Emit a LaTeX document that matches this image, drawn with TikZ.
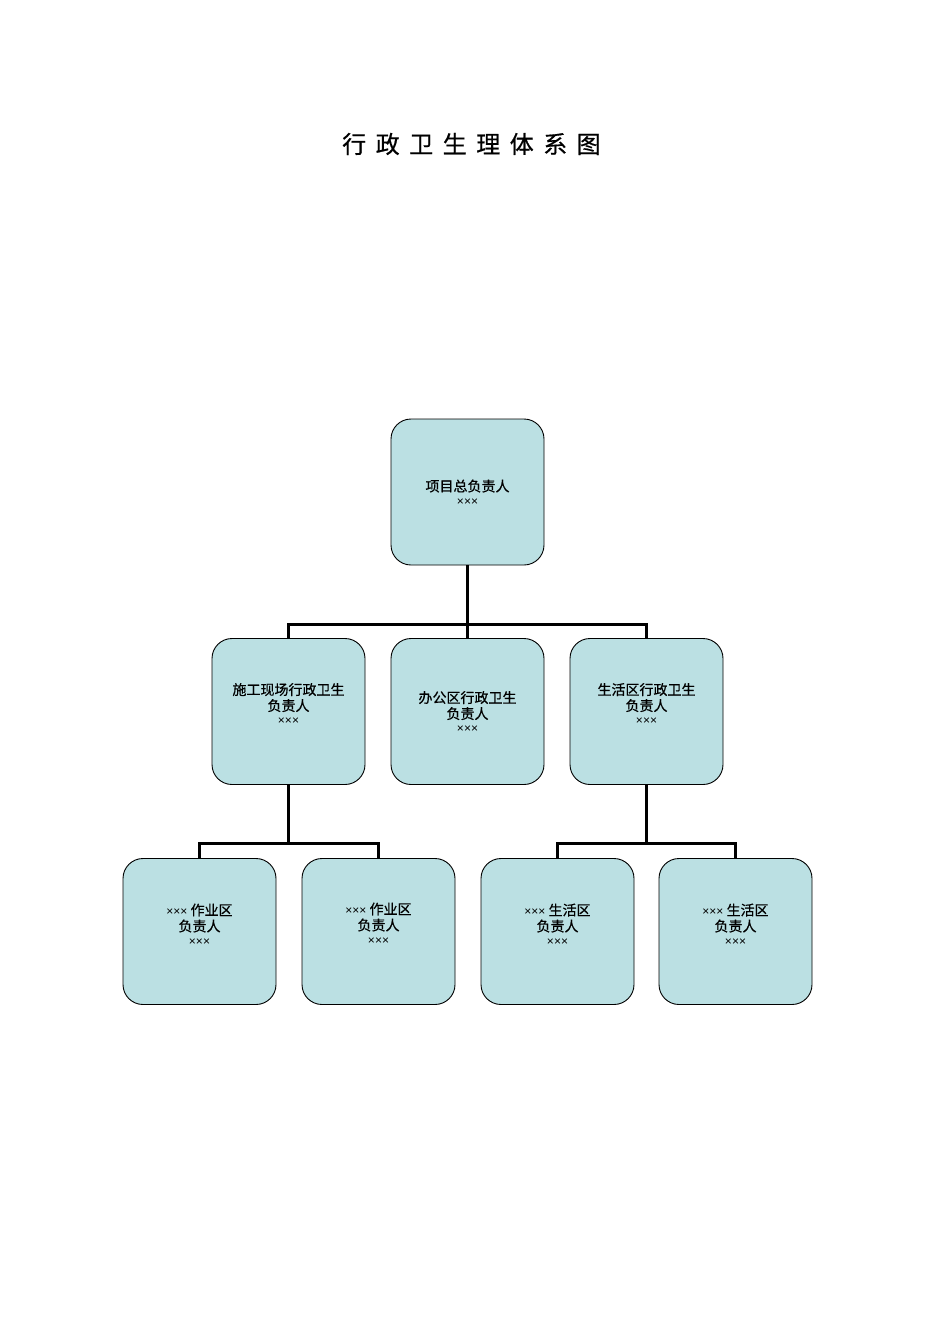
\documentclass[tikz,border=0pt]{standalone}
\usepackage{fontspec}
\setmainfont{Liberation Sans}
\newfontfamily\cjk[FakeBold=0.6]{Noto Sans CJK SC}
\newcommand{\xx}{{\fontspec{Liberation Sans}\fontsize{12}{16}\selectfont ×××}}
\newcommand{\tsp}{\hspace*{9.5pt}}
\definecolor{boxfill}{HTML}{BBE0E3}
\tikzset{
  orgbox/.style={draw=black, line width=0.9pt, fill=boxfill, rounded corners=20pt,
    minimum width=153pt, minimum height=146pt, inner sep=0pt},
  orgtext/.style={align=center, font=\cjk\fontsize{14}{16}\selectfont, inner sep=0pt},
  link/.style={line width=3pt}
}
\begin{document}
\begin{tikzpicture}[x=1pt,y=-1pt]
\useasboundingbox (0,0) rectangle (950,1344);
\node[font=\cjk\fontsize{24}{24}\selectfont] (title) at (471.5,144) {行\tsp 政\tsp 卫\tsp 生\tsp 理\tsp 体\tsp 系\tsp 图};

\node[orgbox] (top) at (467.5,492) {};
\node[orgbox] (m1) at (288.5,711.5) {};
\node[orgbox] (m2) at (467.5,711.5) {};
\node[orgbox] (m3) at (646.5,711.5) {};
\node[orgbox] (b1) at (199.5,931.5) {};
\node[orgbox] (b2) at (378.5,931.5) {};
\node[orgbox] (b3) at (557.5,931.5) {};
\node[orgbox] (b4) at (735.5,931.5) {};

\node[orgtext] (ttop) at (467.5,492.5) {项目总负责人\\[-2pt]\xx};
\node[orgtext] (tm1) at (288.5,704) {施工现场行政卫生\\负责人\\[-2pt]\xx};
\node[orgtext] (tm2) at (467.5,712) {办公区行政卫生\\负责人\\[-2pt]\xx};
\node[orgtext] (tm3) at (646.5,704) {生活区行政卫生\\负责人\\[-2pt]\xx};
\node[orgtext] (tb1) at (199.5,924.5) {\xx{} 作业区\\负责人\\[-2pt]\xx};
\node[orgtext] (tb2) at (378.5,923.5) {\xx{} 作业区\\负责人\\[-2pt]\xx};
\node[orgtext] (tb3) at (557.5,924.5) {\xx{} 生活区\\负责人\\[-2pt]\xx};
\node[orgtext] (tb4) at (735.5,924.5) {\xx{} 生活区\\负责人\\[-2pt]\xx};

\coordinate (bus1) at (467.5,624.5);
\coordinate (bus2) at (288.5,843.5);
\coordinate (bus3) at (646.5,843.5);

\draw[link] (top.south) -- (bus1);
\draw[link] (m1.north) |- (bus1) -| (m3.north);
\draw[link] (bus1) -- (m2.north);
\draw[link] (m1.south) -- (bus2);
\draw[link] (b1.north) |- (bus2) -| (b2.north);
\draw[link] (m3.south) -- (bus3);
\draw[link] (b3.north) |- (bus3) -| (b4.north);
\end{tikzpicture}
\end{document}
